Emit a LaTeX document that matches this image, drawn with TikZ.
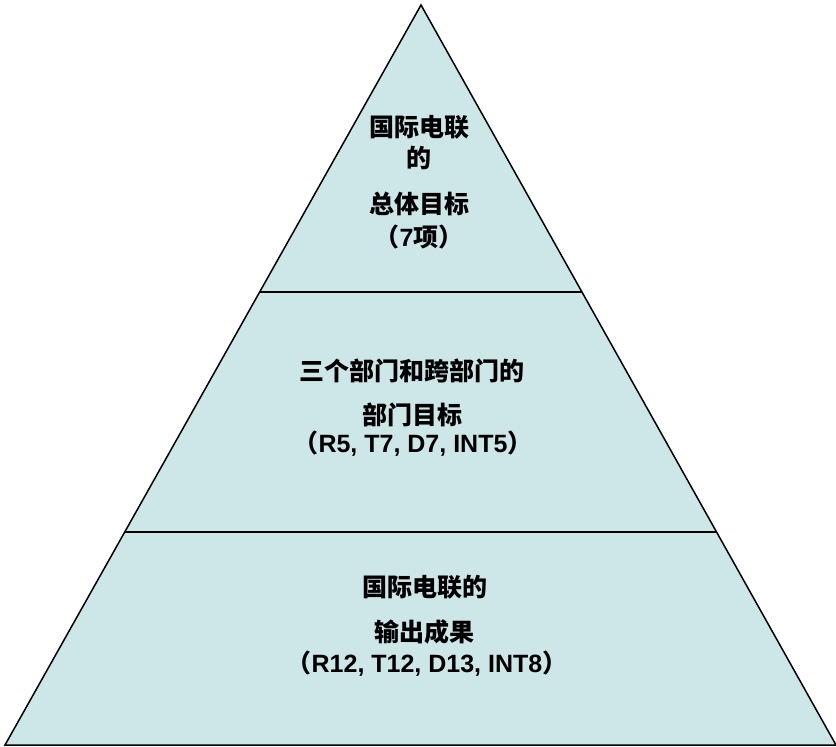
\documentclass[tikz,border=0pt]{standalone}
\usepackage{fontspec}
\setmainfont{Liberation Sans}
\newfontfamily\cjk{Noto Sans CJK SC}
\usetikzlibrary{calc}
\definecolor{tierfill}{RGB}{205,230,232}

\begin{document}
\begin{tikzpicture}[x=1pt, y=-1pt,
	tier/.style={font=\fontsize{25}{29}\selectfont\bfseries, inner sep=0pt, anchor=center}]
	% Parameters
	\def\cutA{0.3878}  % first divider (fraction from apex)
	\def\cutB{0.7122}  % second divider
	
	\useasboundingbox (0,0) rectangle (836,747);
	
	% Corners of the pyramid
	\coordinate (apex) at (421,5);
	\coordinate (left) at (5,745);
	\coordinate (right) at (836,745);
	
	% Draw pyramid filled with color
	\filldraw[fill=tierfill, line width=1.5pt, line join=miter] (apex) -- (left) -- (right) -- cycle;
	
	% Draw dividers
	\draw[line width=1.5pt] ($(apex)!\cutA!(left)$) -- ($(apex)!\cutA!(right)$);
	\draw[line width=1.5pt] ($(apex)!\cutB!(left)$) -- ($(apex)!\cutB!(right)$);
	
	% Top tier
	\node[tier] (topA) at (419,127) {\cjk 国际电联};
	\node[tier] (topB) at (419,158) {\cjk 的};
	\node[tier] (topC) at (419,204) {\cjk 总体目标};
	\node[tier] (topD) at (419,237) {\cjk （\normalfont\bfseries 7\cjk 项）};
	
	% Middle tier
	\node[tier] (midA) at (412,371) {\cjk 三个部门和跨部门的};
	\node[tier] (midB) at (412,415) {\cjk 部门目标};
	\node[tier] (midC) at (413,444) {\cjk （\normalfont\bfseries R5, T7, D7, INT5\cjk ）};
	
	% Bottom tier
	\node[tier] (botA) at (425,587) {\cjk 国际电联的};
	\node[tier] (botB) at (424,632) {\cjk 输出成果};
	\node[tier] (botC) at (427,664) {\cjk （\normalfont\bfseries R12, T12, D13, INT8\cjk ）};
	
\end{tikzpicture}
\end{document}
